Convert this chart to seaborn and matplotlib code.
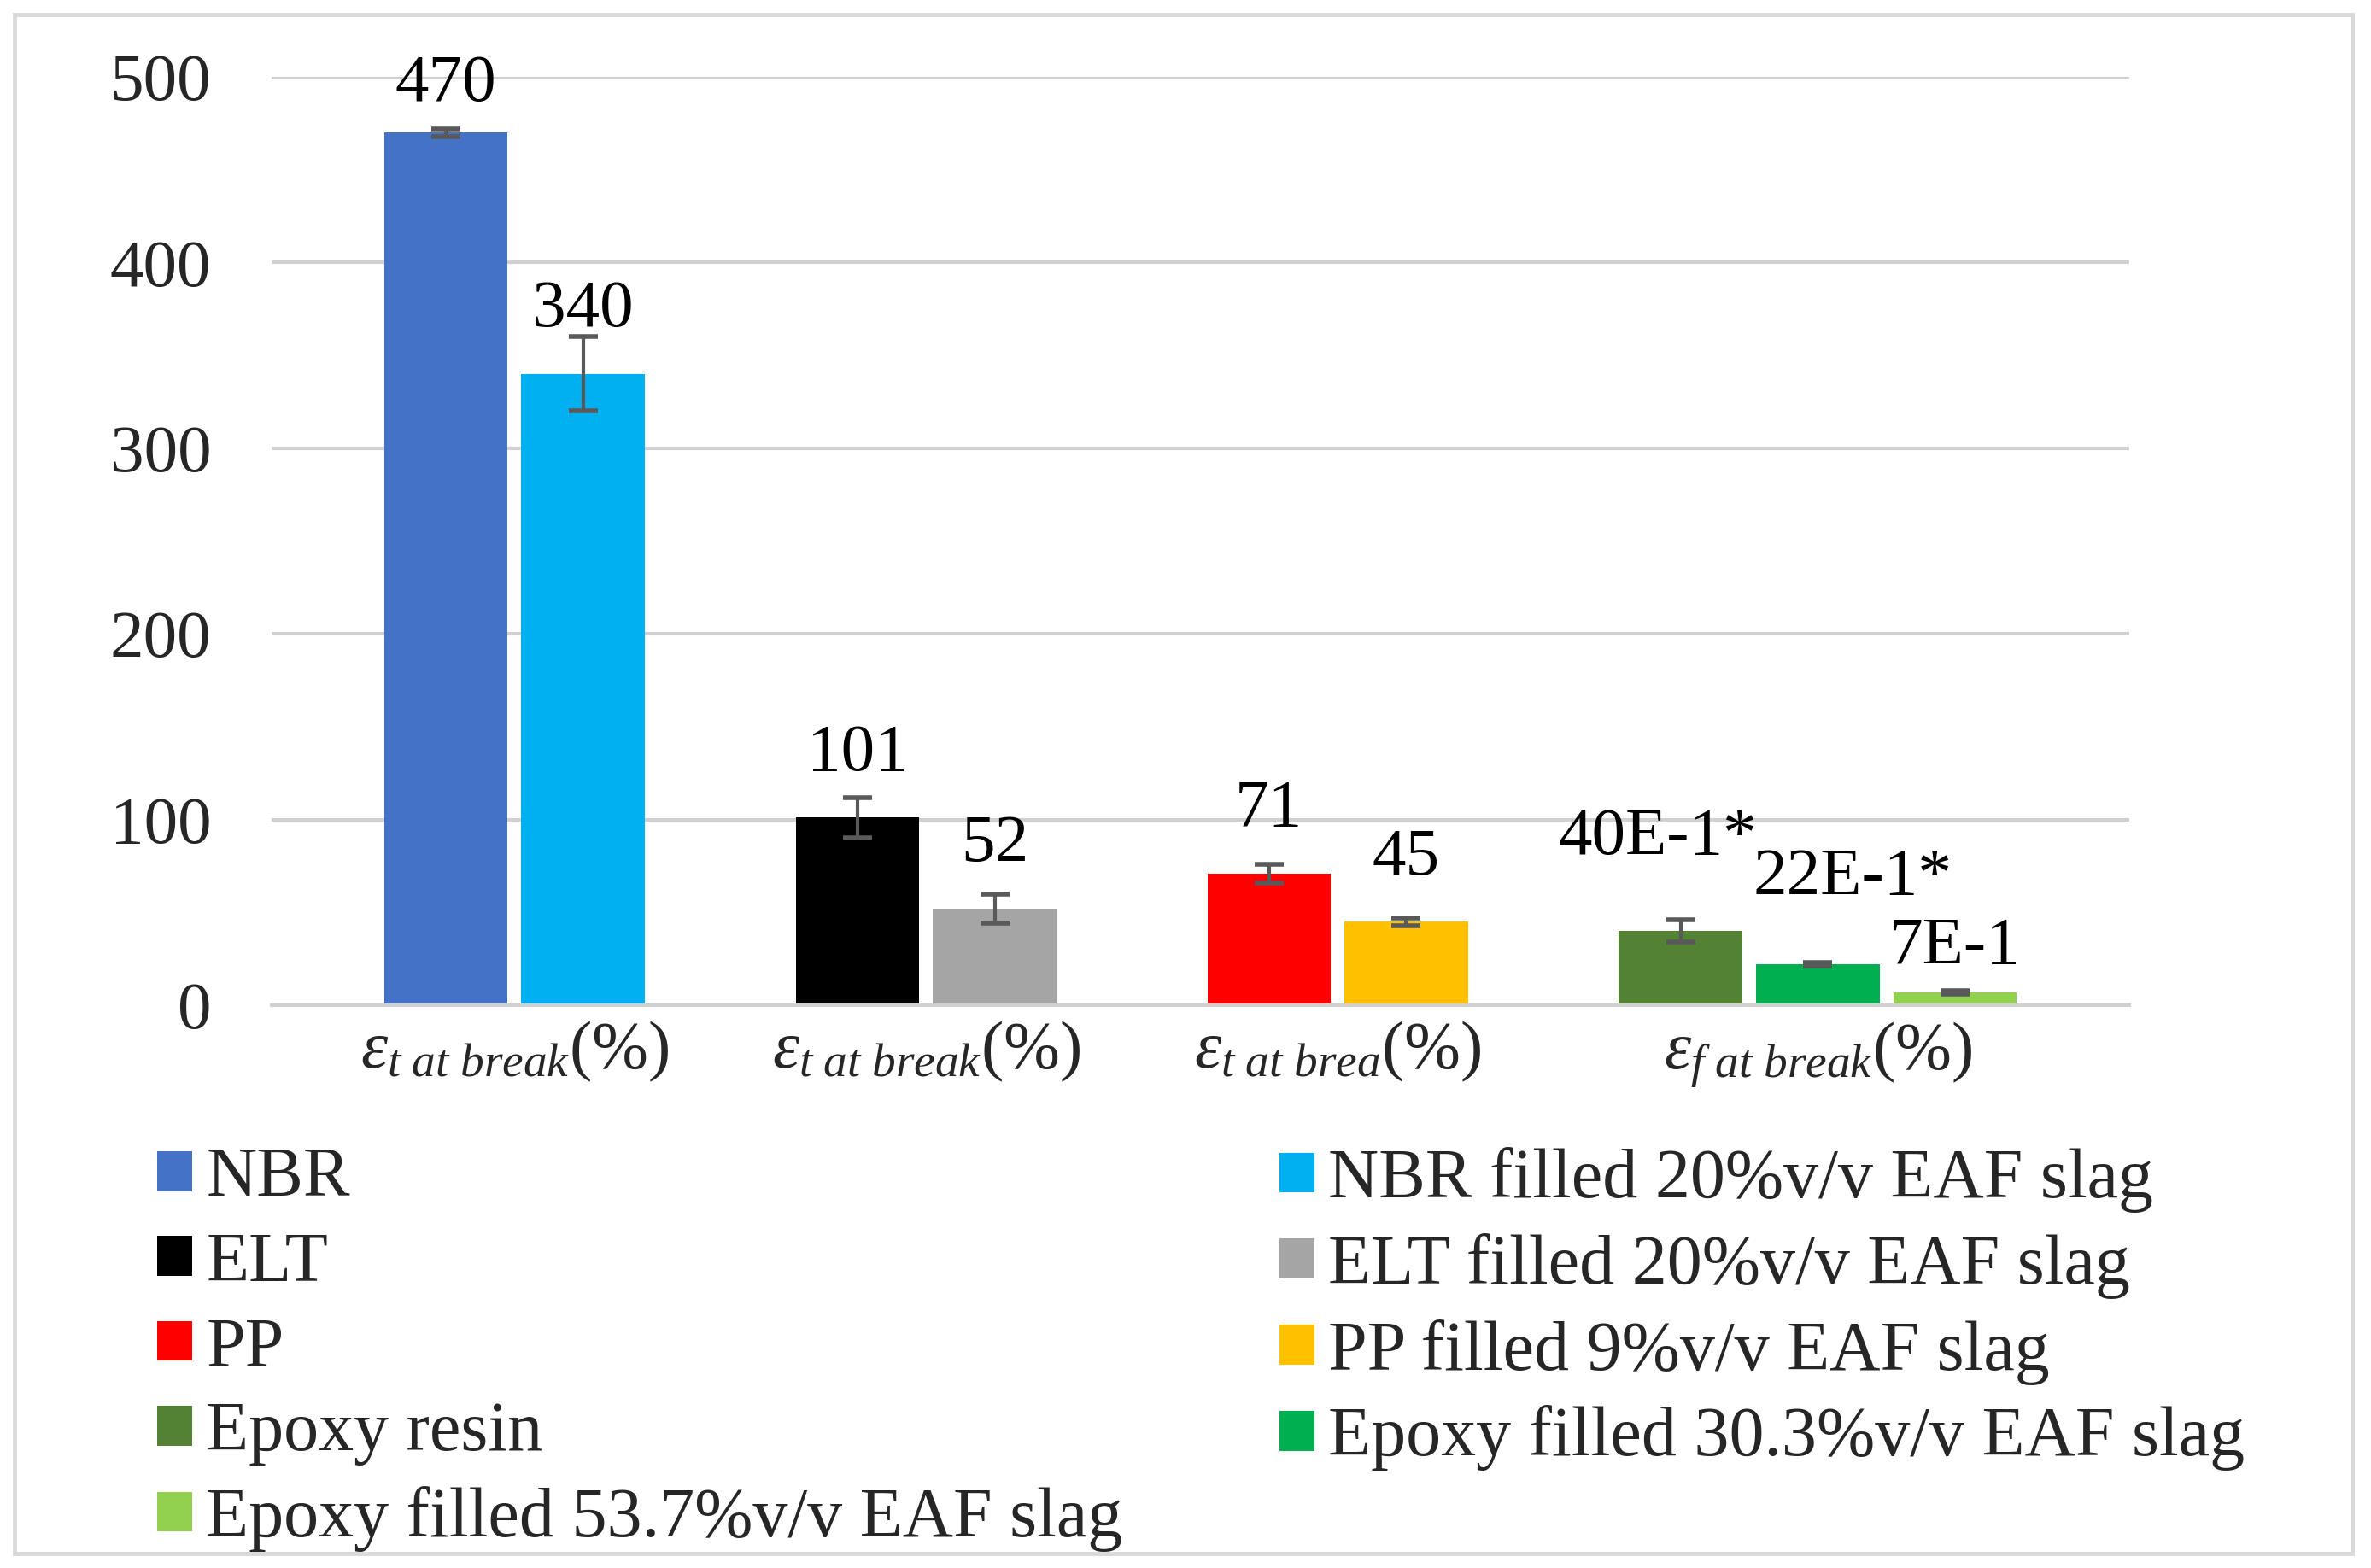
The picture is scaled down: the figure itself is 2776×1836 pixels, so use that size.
import numpy as np
import pandas as pd
import matplotlib
matplotlib.use('Agg')
import matplotlib.pyplot as plt
from matplotlib.patches import Patch, Rectangle
import seaborn as sns

# data
categories = [r'$\varepsilon_{t\ at\ break}$(%)',
              r'$\varepsilon_{t\ at\ break}$(%)',
              r'$\varepsilon_{t\ at\ brea}$(%)',
              r'$\varepsilon_{f\ at\ break}$(%)']
materials = ['NBR', 'NBR filled 20%v/v EAF slag',
             'ELT', 'ELT filled 20%v/v EAF slag',
             'PP', 'PP filled 9%v/v EAF slag',
             'Epoxy resin', 'Epoxy filled 30.3%v/v EAF slag',
             'Epoxy filled 53.7%v/v EAF slag']
group = [0, 0, 1, 1, 2, 2, 3, 3, 3]
values = [470, 340, 101, 52, 71, 45, 40, 22, 7]
errors = [2, 20, 11, 8, 5, 2, 6, 1, 1]
value_labels = ['470', '340', '101', '52', '71', '45', '40E-1*', '22E-1*', '7E-1']
colors = ['#4472C4', '#00B0F0', '#000000', '#A5A5A5', '#FF0000',
          '#FFC000', '#548235', '#00B050', '#92D050']

# label offsets (points) as placed in the original
label_offsets = [(0, 27), (0, 40), (0, 40), (0, 40), (0, 40), (0, 40),
                 (-19, 65), (29, 59), (0, 24)]

sns.set_style('white')
plt.rcParams['font.family'] = ['Liberation Serif', 'DejaVu Serif']
plt.rcParams['mathtext.fontset'] = 'custom'
plt.rcParams['mathtext.rm'] = 'Liberation Serif'
plt.rcParams['mathtext.it'] = 'Liberation Serif:italic'

FS = 57
grid_col = '#d0d0d0'

# one empty slot between groups
pos = [i + g for i, g in enumerate(group)]
df = pd.DataFrame({'pos': pos, 'value': values, 'material': materials})

fig = plt.figure(figsize=(27.76, 18.36), dpi=100)
ax = fig.add_axes([318 / 2776, 1 - 1177 / 1836, (2493 - 318) / 2776, (1177 - 90) / 1836])

sns.barplot(data=df, x='pos', y='value', hue='material', hue_order=materials,
            palette=colors, native_scale=True, dodge=False, width=0.9,
            saturation=1, errorbar=None, legend=False, linewidth=0, ax=ax)

ax.errorbar(pos, values, yerr=errors, fmt='none', ecolor='#595959',
            elinewidth=3, capsize=12, capthick=4, zorder=3)

for p, v, txt, (dx, dy) in zip(pos, values, value_labels, label_offsets):
    ax.annotate(txt, (p, v), xytext=(dx, dy), textcoords='offset points',
                ha='center', va='baseline', fontsize=FS, color='black')

group_centers = [np.mean([p for p, g in zip(pos, group) if g == k])
                 for k in range(len(categories))]
ax.set_xticks(group_centers)
ax.set_xticklabels(categories, fontsize=FS)
ax.set_xlim(-1.27, 12.27)
ax.set_ylim(0, 500)
ax.set_yticks(np.arange(0, 501, 100))
ax.tick_params(axis='y', length=0, pad=51, labelsize=FS)
ax.tick_params(axis='x', length=0, pad=12)
ax.set_xlabel('')
ax.set_ylabel('')

ax.grid(axis='y', color=grid_col, lw=3)
ax.grid(axis='x', visible=False)
ax.set_axisbelow(True)
for side in ['top', 'right', 'left']:
    ax.spines[side].set_visible(False)
ax.spines['bottom'].set_color(grid_col)
ax.spines['bottom'].set_linewidth(3)

# legend: two columns, filled row by row
handles = [Patch(facecolor=c, edgecolor='none', label=m) for m, c in zip(materials, colors)]
leg_kw = dict(loc='upper left', frameon=False, fontsize=59, handlelength=0.5,
              handleheight=0.5, handletextpad=0.2, labelspacing=0.29,
              borderpad=0, borderaxespad=0)
leg1 = fig.legend(handles=handles[0::2], bbox_to_anchor=(184 / 2776, 1 - 1343 / 1836), **leg_kw)
leg2 = fig.legend(handles=handles[1::2], bbox_to_anchor=(1498 / 2776, 1 - 1343 / 1836), **leg_kw)

# outer chart frame
fig.add_artist(Rectangle((17 / 2776, 17 / 1836), (2754 - 17) / 2776, (1819 - 17) / 1836,
                         transform=fig.transFigure, fill=False,
                         edgecolor='#d9d9d9', lw=3.5))

fig.savefig('out.png', dpi=100)
